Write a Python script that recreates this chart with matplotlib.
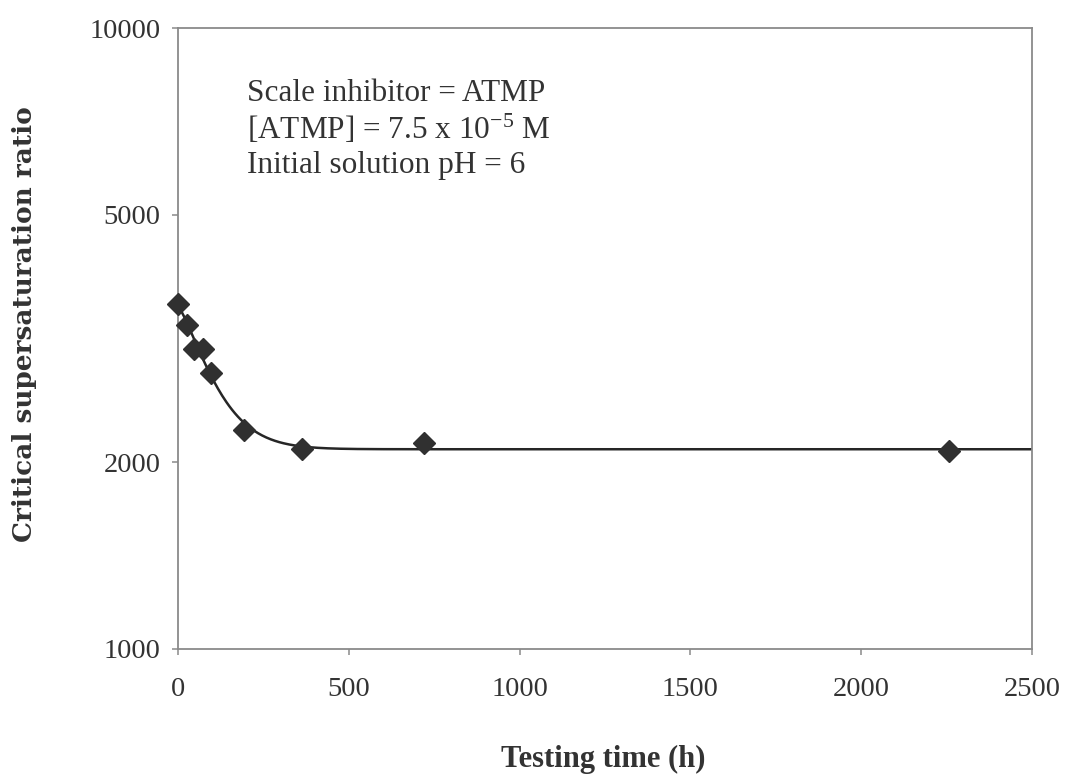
import numpy as np
import matplotlib
matplotlib.use("Agg")
import matplotlib.pyplot as plt
from matplotlib.ticker import FixedLocator, NullLocator

# ---- data ----
time_h = [0, 27, 48, 74, 96, 194, 364, 720, 2258]
ratio = [3594, 3324, 3038, 3038, 2780, 2253, 2099, 2149, 2087]

x_ticks = [0, 500, 1000, 1500, 2000, 2500]
y_ticks = [1000, 2000, 5000, 10000]
y_tick_labels = ["1000", "2000", "5000", "10000"]
annotation_lines = ["Scale inhibitor = ATMP",
                    r"[ATMP] = 7.5 x 10$^{\mathregular{-5}}$ M",
                    "Initial solution pH = 6"]

plt.rcParams['font.family'] = ['Liberation Serif', 'DejaVu Serif']
plt.rcParams['mathtext.fontset'] = 'custom'
plt.rcParams['mathtext.rm'] = 'Liberation Serif'
plt.rcParams['mathtext.it'] = 'Liberation Serif:italic'
plt.rcParams['mathtext.bf'] = 'Liberation Serif:bold'

# ---- smooth trend curve: least-squares fit of a + b*exp(-(x/c)^p) ----
x = np.asarray(time_h, float)
y = np.asarray(ratio, float)
best = None
for c in np.linspace(20, 400, 381):
    for p in np.linspace(1.0, 1.4, 9):
        f = np.exp(-(x / c) ** p)
        A = np.vstack([np.ones_like(f), f]).T
        coef, *_ = np.linalg.lstsq(A, y, rcond=None)
        err = np.sum((A @ coef - y) ** 2)
        if best is None or err < best[0]:
            best = (err, c, p, coef)
_, c_fit, p_fit, coef_fit = best
xs = np.linspace(0, 2500, 600)
ys = coef_fit[0] + coef_fit[1] * np.exp(-(xs / c_fit) ** p_fit)

W, H = 1066, 774
fig = plt.figure(figsize=(W / 100, H / 100), dpi=100)
ax = fig.add_axes([178 / W, 1 - 649 / H, (1032 - 178) / W, (649 - 28) / H])

ink = '#262626'
ax.plot(xs, ys, color=ink, lw=1.8, zorder=2)
ax.plot(time_h, ratio, linestyle='none', marker='D', ms=11,
        color='#303030', mec='#303030', zorder=3, clip_on=False)

ax.set_yscale('log')
ax.set_xlim(0, 2500)
ax.set_ylim(1000, 10000)
ax.xaxis.set_major_locator(FixedLocator(x_ticks))
ax.set_xticklabels([str(t) for t in x_ticks])
ax.yaxis.set_major_locator(FixedLocator(y_ticks))
ax.yaxis.set_minor_locator(NullLocator())
ax.set_yticklabels(y_tick_labels)

for s in ax.spines.values():
    s.set_color('#8a8a8a')
    s.set_linewidth(1.3)
ax.tick_params(axis='both', which='major', direction='out', length=4.5,
               width=1.1, color='#8a8a8a', labelsize=20.5, labelcolor='#333333')
ax.tick_params(axis='x', pad=16)
ax.tick_params(axis='y', pad=8)

fig.text(247 / W, 1 - 79 / H, "\n".join(annotation_lines), ha='left', va='top',
         fontsize=22.5, color='#333333', linespacing=1.2)

fig.text(603 / W, 1 - 767 / H, "Testing time (h)", ha='center', va='baseline',
         fontsize=22, fontweight='bold', color='#333333')
fig.text(25 / W, 1 - 324 / H, "Critical supersaturation ratio", rotation=90,
         ha='center', va='center', fontsize=19, fontweight='bold',
         family=['DejaVu Serif'], color='#333333')

fig.savefig('out.png', dpi=100)
